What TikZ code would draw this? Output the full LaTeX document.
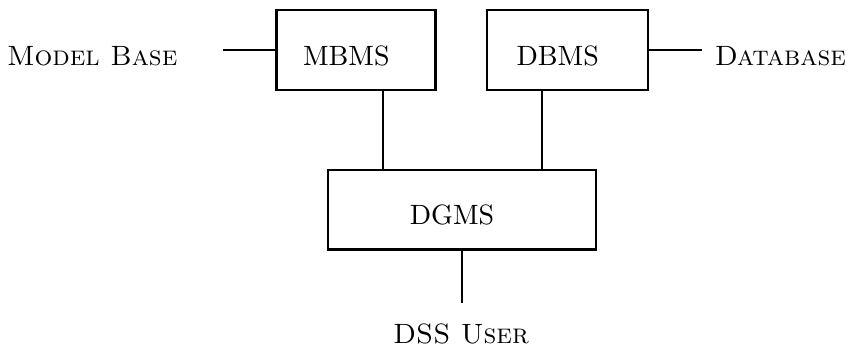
\documentclass[tikz,border=0pt]{standalone}
\begin{document}
\begin{tikzpicture}
\tikzset{ box/.style={draw, thick, minimum height=1cm, text height=10.8pt, text depth=0pt,
          execute at end node={\hspace{7pt}}}, }

%\draw [lightgray, dashed](0,0) grid (11,5);
\useasboundingbox (0,0) rectangle (10.72,4.39);

\node [box, minimum width=2.0cm]  (MB) at (4.48,3.76) {MBMS};
\node [box, minimum width=2.03cm] (DB) at (7.14,3.76) {DBMS};
\node [box, minimum width=3.37cm] (DG) at (5.81,1.75) {DGMS};

\node (base) at (1.16,3.68) {\textsc{Model Base}};
\node [anchor=east, inner sep=0pt] (data) at (10.65,3.68) {\textsc{Database}};
\node (user) at (5.80,0.19) {\textsc{DSS User}};

\coordinate (MBin)  at (2.81,3.76);
\coordinate (DBout) at (8.83,3.76);
\coordinate (DGout) at (5.81,0.58);
\coordinate (MBd) at ([xshift=3.4mm]MB.south);
\coordinate (DBd) at ([xshift=-3.2mm]DB.south);

\draw [semithick] (MBin) -- (MB.west);
\draw [semithick] (DB.east) -- (DBout);
\draw [thick]     (MBd) -- (MBd |- DG.north);
\draw [semithick] (DBd) -- (DBd |- DG.north);
\draw [semithick] (DG.south) -- (DGout);

\end{tikzpicture}
\end{document}
